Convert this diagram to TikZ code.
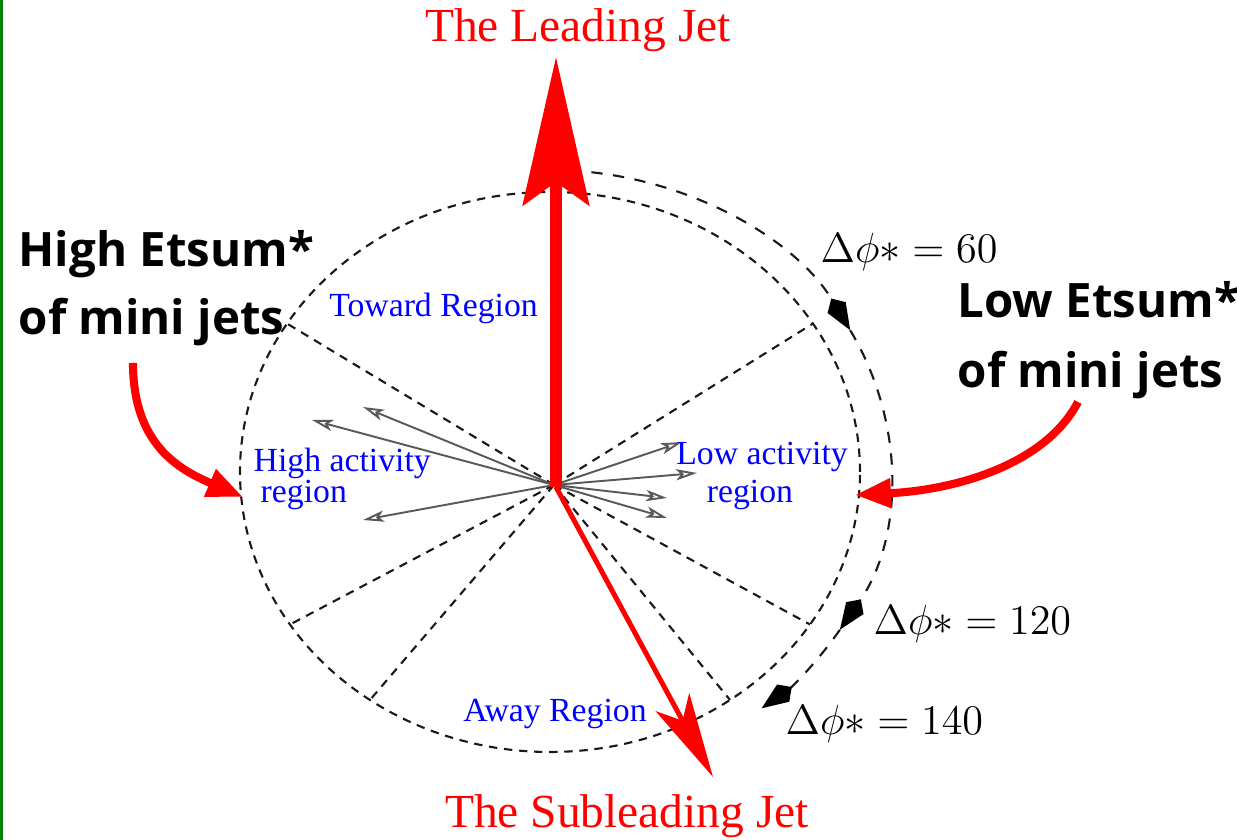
\documentclass[tikz,border=0pt]{standalone}
\usepackage{fontspec}
\newfontfamily\serifjet{Liberation Serif}
\newfontfamily\sansnote{Open Sans}
\usetikzlibrary{arrows.meta}

\begin{document}
\begin{tikzpicture}[
	every node/.style={inner sep=0pt},
	regdash/.style={black!90, line width=0.6pt, dash pattern=on 2.4pt off 1.9pt},
	arcdash/.style={black!90, line width=0.6pt, dash pattern=on 3.2pt off 3.0pt,
		-{Kite[length=10.5pt, width=6pt, inset=3pt, fill=black, color=black]}},
	jetlabel/.style={red, font=\serifjet\fontsize{13.5}{16}\selectfont, anchor=base},
	reglabel/.style={blue, font=\serifjet\fontsize{9.6}{11}\selectfont, anchor=base},
	dphilabel/.style={black, font=\fontsize{12}{14}\selectfont, anchor=base west},
	etlabel/.style={black, font=\sansnote\bfseries\fontsize{13.5}{16}\selectfont, anchor=base west},
	activity/.style={gray!70!black, line width=0.55pt,
		-{Stealth[open, length=6pt, width=3.2pt, inset=1.5pt]}},
	pointer/.style={red, line width=2.3pt, -{Triangle[length=0.36cm, width=0.28cm]}},
	]
	
	\useasboundingbox (0,0) rectangle (12.37,8.40);
	
	\def\cx{5.50}
	\def\cy{3.68}
	\def\rx{3.10}
	\def\ry{2.80}
	\def\rxo{3.40}
	\def\ryo{3.02}
	
	\coordinate (O) at (5.54,3.55);
	\coordinate (LJ) at (5.56,7.83);
	\coordinate (SJ) at (7.13,0.63);
	
	% ── Marco verde a la izquierda ─────────────────────────────────────
	\draw[green!50!black, line width=0.03cm] (0.015,0) -- (0.015,8.40);
	
	% ── Elipse y sectores ──────────────────────────────────────────────
	\draw[regdash] (\cx,\cy) ellipse [x radius=\rx, y radius=\ry];
	\foreach \tt in {32,148,-33,213,-54.5,234.5}{
		\draw[regdash] (O) -- ({\cx+\rx*cos(\tt)},{\cy+\ry*sin(\tt)});
	}
	
	% ── Arcos exteriores con puntas ────────────────────────────────────
	\foreach \ts/\te [count=\k] in {83/28,28/-31.5,-31.5/-51.5}{
		\coordinate (arc\k) at ({\cx+\rxo*cos(\ts)},{\cy+\ryo*sin(\ts)});
		\draw[arcdash] (arc\k)
		arc[start angle=\ts, end angle=\te, x radius=\rxo, y radius=\ryo];
	}
	
	% ── Mini jets ──────────────────────────────────────────────────────
	\foreach \px/\py [count=\i] in {3.63/4.33,3.12/4.20,3.63/3.20,6.82/3.98,6.97/3.67,6.67/3.42,6.67/3.22}{
		\coordinate (act\i) at (\px,\py);
		\draw[activity] (O) -- (act\i);
	}
	
	% ── Jets ───────────────────────────────────────────────────────────
	\draw[red, line width=0.12cm, -{Stealth[length=1.48cm, width=0.66cm, inset=0.23cm]}]
	(5.56,3.53) -- (LJ);
	\draw[red, line width=0.05cm, -{Stealth[length=0.85cm, width=0.38cm, inset=0.21cm]}]
	(5.56,3.53) -- (SJ);
	
	\node[jetlabel] (lead) at (5.78,7.98) {The Leading Jet};
	\node[jetlabel] (sublead) at (6.27,0.12) {The Subleading Jet};
	
	% ── Regiones ───────────────────────────────────────────────────────
	\node[reglabel] (toward) at (4.335,5.23) {Toward Region};
	\node[reglabel] (away) at (5.55,1.18) {Away Region};
	\node[reglabel, anchor=base west] (highA) at (2.53,3.68) {High activity};
	\node[reglabel, anchor=base west] (highB) at (2.60,3.37) {region};
	\node[reglabel] (lowA) at (7.62,3.75) {Low activity};
	\node[reglabel] (lowB) at (7.50,3.37) {region};
	
	% ── Etiquetas de angulo ────────────────────────────────────────────
	\node[dphilabel] (dsixty) at (8.20,5.77) {$\Delta\phi{*} = 60$};
	\node[dphilabel] (donetwenty) at (8.73,2.05) {$\Delta\phi{*} = 120$};
	\node[dphilabel] (donefourty) at (7.85,1.05) {$\Delta\phi{*} = 140$};
	
	% ── Etsum* y flechas rojas ─────────────────────────────────────────
	\node[etlabel] (highEt) at (0.18,5.73) {High Etsum*};
	\node[etlabel] (highMini) at (0.18,5.05) {of mini jets};
	\node[etlabel] (lowEt) at (9.57,5.22) {Low Etsum*};
	\node[etlabel] (lowMini) at (9.57,4.52) {of mini jets};
	
	\coordinate (hiS) at (1.33,4.77);
	\coordinate (hiT) at (2.43,3.43);
	\coordinate (loS) at (10.78,4.38);
	\coordinate (loT) at (8.55,3.45);
	\draw[pointer] (hiS) .. controls (1.33,3.95) and (1.80,3.70) .. (hiT);
	\draw[pointer] (loS) .. controls (10.45,3.75) and (9.55,3.50) .. (loT);
	
\end{tikzpicture}
\end{document}
